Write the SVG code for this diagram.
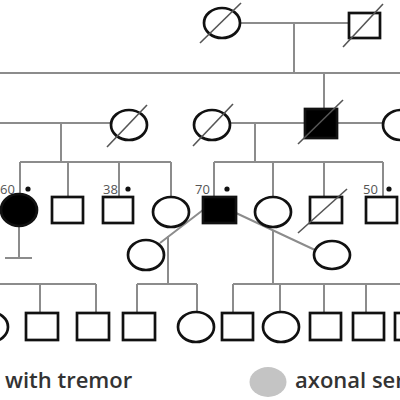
<svg xmlns="http://www.w3.org/2000/svg" width="400" height="400" viewBox="0 0 400 400">
<style>
.c{stroke:#8c8c8c;stroke-width:2;fill:none}
.s{stroke:#111;stroke-width:2.7;fill:#fff}
.f{stroke:#111;stroke-width:2.7;fill:#000}
.d{stroke:#555;stroke-width:1.6}
.lab{font-family:"Open Sans",sans-serif;font-size:13px;fill:#555}
.leg{font-family:"Open Sans",sans-serif;font-size:22px;font-weight:600;fill:#333}
</style>
<rect width="400" height="400" fill="#fff"/>
<g id="connectors" class="c">
<path d="M240 23H349M294 23V73M0 73H400M324 73V109"/>
<path d="M0 123H111M61 123V162M230 123H305M255 123V162M337 123H382"/>
<path d="M20 162H171M20 162V197M68 162V197M119 162V197M171 162V197"/>
<path d="M214 162H383M214 162V197M273 162V197M324 162V197M383 162V197"/>
<path d="M19 226V258M5 258H32"/>
<path d="M203 210L160 243M168 236V284M236 213L315 250M273 230V284"/>
<path d="M0 284H96M40 284V313M96 284V313"/>
<path d="M137 284H197M137 284V313M197 284V312"/>
<path d="M233 284H400M233 284V313M280 284V312M324 284V313M366 284V313"/>
</g>
<g id="g1-f"><ellipse class="s" cx="222" cy="23" rx="18" ry="15"/><line class="d" x1="200" y1="43" x2="241" y2="3"/></g>
<g id="g1-m"><rect class="s" x="349" y="13" width="31" height="25"/><line class="d" x1="343" y1="47" x2="383" y2="4"/></g>
<g id="g2-a"><ellipse class="s" cx="129" cy="125" rx="18" ry="15"/><line class="d" x1="107" y1="147" x2="147" y2="105"/></g>
<g id="g2-b"><ellipse class="s" cx="212" cy="125" rx="18" ry="15"/><line class="d" x1="193" y1="146" x2="233" y2="104"/></g>
<g id="g2-c"><rect class="f" x="305" y="109" width="32" height="29"/><line class="d" x1="298" y1="144" x2="343" y2="100"/></g>
<g id="g2-d"><ellipse class="s" cx="401" cy="125" rx="18" ry="15"/></g>
<g id="g3-1"><ellipse class="f" cx="19" cy="210" rx="18" ry="16"/><text class="lab" x="0" y="194">60</text><circle cx="28" cy="189" r="2.6" fill="#111"/></g>
<g id="g3-2"><rect class="s" x="52" y="197" width="31" height="26"/></g>
<g id="g3-3"><rect class="s" x="103" y="197" width="30" height="26"/><text class="lab" x="103" y="194">38</text><circle cx="128" cy="189" r="2.6" fill="#111"/></g>
<g id="g3-4"><ellipse class="s" cx="171" cy="212" rx="18" ry="15"/></g>
<g id="g3-5"><rect class="f" x="203" y="197" width="33" height="26"/><text class="lab" x="195" y="194">70</text><circle cx="227" cy="189" r="2.6" fill="#111"/></g>
<g id="g3-6"><ellipse class="s" cx="273" cy="212" rx="18" ry="15"/></g>
<g id="g3-7"><rect class="s" x="310" y="197" width="32" height="26"/><line class="d" x1="298" y1="233" x2="347" y2="189"/></g>
<g id="g3-8"><rect class="s" x="366" y="197" width="31" height="26"/><text class="lab" x="363" y="194">50</text><circle cx="389" cy="189" r="2.6" fill="#111"/></g>
<g id="g3-s1"><ellipse class="s" cx="146" cy="255" rx="18" ry="15"/></g>
<g id="g3-s2"><ellipse class="s" cx="332" cy="255" rx="18" ry="14"/></g>
<g id="g4-1"><ellipse class="s" cx="-10" cy="327" rx="18" ry="15"/></g>
<g id="g4-2"><rect class="s" x="26" y="313" width="32" height="27"/></g>
<g id="g4-3"><rect class="s" x="77" y="313" width="32" height="27"/></g>
<g id="g4-4"><rect class="s" x="123" y="313" width="32" height="27"/></g>
<g id="g4-5"><ellipse class="s" cx="196" cy="327" rx="18" ry="15"/></g>
<g id="g4-6"><rect class="s" x="222" y="313" width="31" height="27"/></g>
<g id="g4-7"><ellipse class="s" cx="281" cy="327" rx="18" ry="15"/></g>
<g id="g4-8"><rect class="s" x="310" y="313" width="31" height="27"/></g>
<g id="g4-9"><rect class="s" x="353" y="313" width="31" height="27"/></g>
<g id="g4-10"><rect class="s" x="395" y="313" width="31" height="27"/></g>
<g id="legend">
<text class="leg" x="5" y="388">with tremor</text>
<ellipse cx="268" cy="382" rx="18.5" ry="15" fill="#c4c4c4"/>
<text class="leg" x="295" y="388">axonal ser</text>
</g>
</svg>
